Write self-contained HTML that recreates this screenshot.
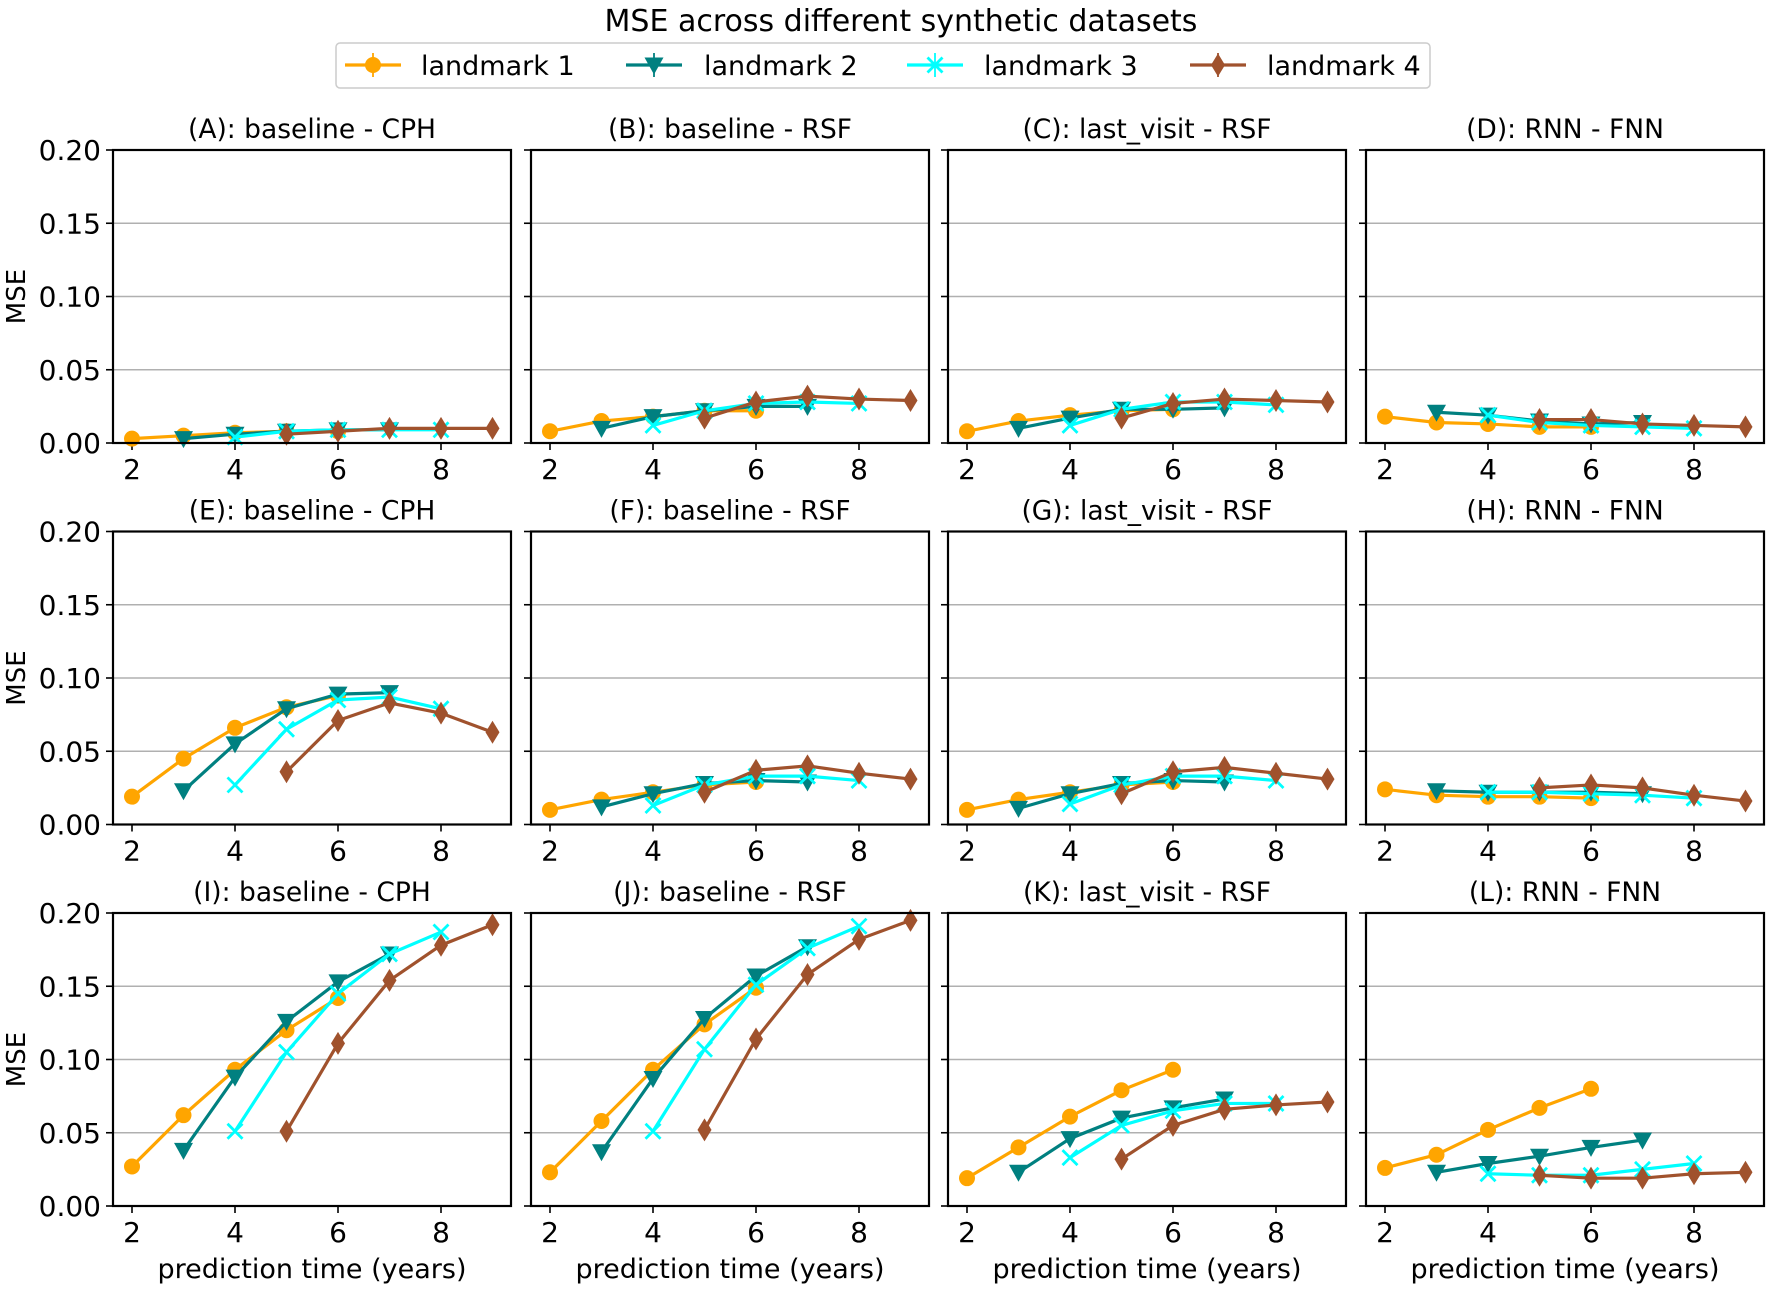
<!DOCTYPE html>
<html><head><meta charset="utf-8"><style>
html,body{margin:0;padding:0;background:#fff;}
svg{display:block;font-family:"DejaVu Sans","Liberation Sans",sans-serif;}
</style></head><body>
<svg id="s" width="1772" height="1290" viewBox="0 0 1772 1290" xmlns="http://www.w3.org/2000/svg">
<rect width="1772" height="1290" fill="#fff"/>
<text x="901" y="31" text-anchor="middle" font-size="30" fill="#000">MSE across different synthetic datasets</text>
<rect x="336" y="43" width="1094" height="45" rx="4" fill="#fff" stroke="#ccc" stroke-width="1.5"/>
</svg>
<script>
const S=document.getElementById('s');const NS='http://www.w3.org/2000/svg';
function el(t,a,txt){const e=document.createElementNS(NS,t);for(const k in a)e.setAttribute(k,a[k]);if(txt!==undefined)e.textContent=txt;S.appendChild(e);return e;}
const C=['#ffa500','#008080','#00ffff','#a0522d'];
function marker(i,x,y){
 const c=C[i];
 if(i===0)el('circle',{cx:x,cy:y,r:8,fill:c});
 else if(i===1)el('polygon',{points:`${x-9.5},${y-7.5} ${x+9.5},${y-7.5} ${x},${y+9.5}`,fill:c});
 else if(i===2){el('path',{d:`M${x-7.5},${y-7.5}L${x+7.5},${y+7.5}M${x-7.5},${y+7.5}L${x+7.5},${y-7.5}`,stroke:c,'stroke-width':2.8,fill:'none'});}
 else el('polygon',{points:`${x},${y-11.5} ${x+7},${y} ${x},${y+11.5} ${x-7},${y}`,fill:c});
}
const LX=[345,626,907,1190],LT=[421,704,984,1267];
for(let i=0;i<4;i++){const y=65;el('line',{x1:LX[i],y1:y,x2:LX[i]+56,y2:y,stroke:C[i],'stroke-width':3.2});
 el('line',{x1:LX[i]+28,y1:y-12,x2:LX[i]+28,y2:y+12,stroke:C[i],'stroke-width':1.8});marker(i,LX[i]+28,y);
 el('text',{x:LT[i],y:y+10,'font-size':27},'landmark '+(i+1));}
const cols=[113,531,948,1366],W=398,rows=[150,531.5,913],H=293;
const titles=[['(A): baseline - CPH','(B): baseline - RSF','(C): last_visit - RSF','(D): RNN - FNN'],
['(E): baseline - CPH','(F): baseline - RSF','(G): last_visit - RSF','(H): RNN - FNN'],
['(I): baseline - CPH','(J): baseline - RSF','(K): last_visit - RSF','(L): RNN - FNN']];
const D=[
[[[.003,.005,.007,.008,.008],[.003,.006,.008,.009,.009],[.004,.008,.009,.009,.009],[.006,.008,.01,.01,.01]],
 [[.008,.015,.018,.022,.022],[.01,.018,.022,.025,.025],[.012,.022,.027,.028,.027],[.017,.028,.032,.03,.029]],
 [[.008,.015,.019,.022,.023],[.01,.017,.023,.023,.024],[.012,.023,.028,.028,.026],[.017,.027,.03,.029,.028]],
 [[.018,.014,.013,.011,.011],[.021,.019,.015,.013,.014],[.019,.014,.012,.011,.01],[.016,.016,.013,.012,.011]]],
[[[.019,.045,.066,.08,.088],[.023,.055,.079,.089,.09],[.027,.065,.085,.087,.079],[.036,.071,.083,.076,.063]],
 [[.01,.017,.022,.027,.029],[.012,.021,.028,.03,.029],[.013,.027,.033,.033,.03],[.022,.037,.04,.035,.031]],
 [[.01,.017,.022,.027,.029],[.011,.021,.028,.03,.029],[.014,.027,.033,.033,.03],[.021,.036,.039,.035,.031]],
 [[.024,.02,.019,.019,.018],[.023,.022,.022,.022,.021],[.022,.022,.021,.02,.018],[.025,.027,.025,.02,.016]]],
[[[.027,.062,.093,.12,.142],[.038,.088,.126,.153,.172],[.051,.105,.145,.172,.187],[.051,.111,.154,.178,.192]],
 [[.023,.058,.093,.124,.149],[.037,.087,.128,.157,.177],[.051,.107,.151,.176,.191],[.052,.114,.158,.182,.195]],
 [[.019,.04,.061,.079,.093],[.023,.046,.06,.067,.073],[.033,.055,.065,.07,.07],[.032,.055,.066,.069,.071]],
 [[.026,.035,.052,.067,.08],[.023,.029,.034,.04,.045],[.022,.021,.021,.025,.029],[.021,.019,.019,.022,.023]]]];
for(let r=0;r<3;r++)for(let c=0;c<4;c++){
 const L=cols[c],T=rows[r],B=T+H;
 const X=v=>L+19+(v-2)*51.5, Y=v=>B-v/0.2*H;
 for(const g of [.05,.1,.15])el('line',{x1:L,y1:Y(g),x2:L+W,y2:Y(g),stroke:'#b0b0b0','stroke-width':1.6});
 el('text',{x:L+W/2,y:T-12,'text-anchor':'middle','font-size':26.5},titles[r][c]);
 for(let k=0;k<5;k++){const v=k*0.05,y=Y(v);el('line',{x1:L-7,y1:y,x2:L,y2:y,stroke:'#000','stroke-width':1.6});
  if(c===0)el('text',{x:L-12,y:y+10,'text-anchor':'end','font-size':28},v.toFixed(2));}
 for(const t of [2,4,6,8]){el('line',{x1:X(t),y1:B,x2:X(t),y2:B+7,stroke:'#000','stroke-width':1.6});
  el('text',{x:X(t),y:B+36,'text-anchor':'middle','font-size':28},t);}
 for(let i=0;i<4;i++){const d=D[r][c][i];const pts=d.map((v,k)=>[X(i+2+k),Y(v)]);
  el('polyline',{points:pts.map(p=>p.join(',')).join(' '),fill:'none',stroke:C[i],'stroke-width':3.2});
  pts.forEach(p=>marker(i,p[0],p[1]));}
 el('rect',{x:L,y:T,width:W,height:H,fill:'none',stroke:'#000','stroke-width':2.2});
 if(c===0)el('text',{x:0,y:0,'font-size':26,'text-anchor':'middle',transform:`translate(25,${T+H/2}) rotate(-90)`},'MSE');
 if(r===2)el('text',{x:L+W/2,y:1278,'text-anchor':'middle','font-size':27},'prediction time (years)');
}
</script>
</body></html>
